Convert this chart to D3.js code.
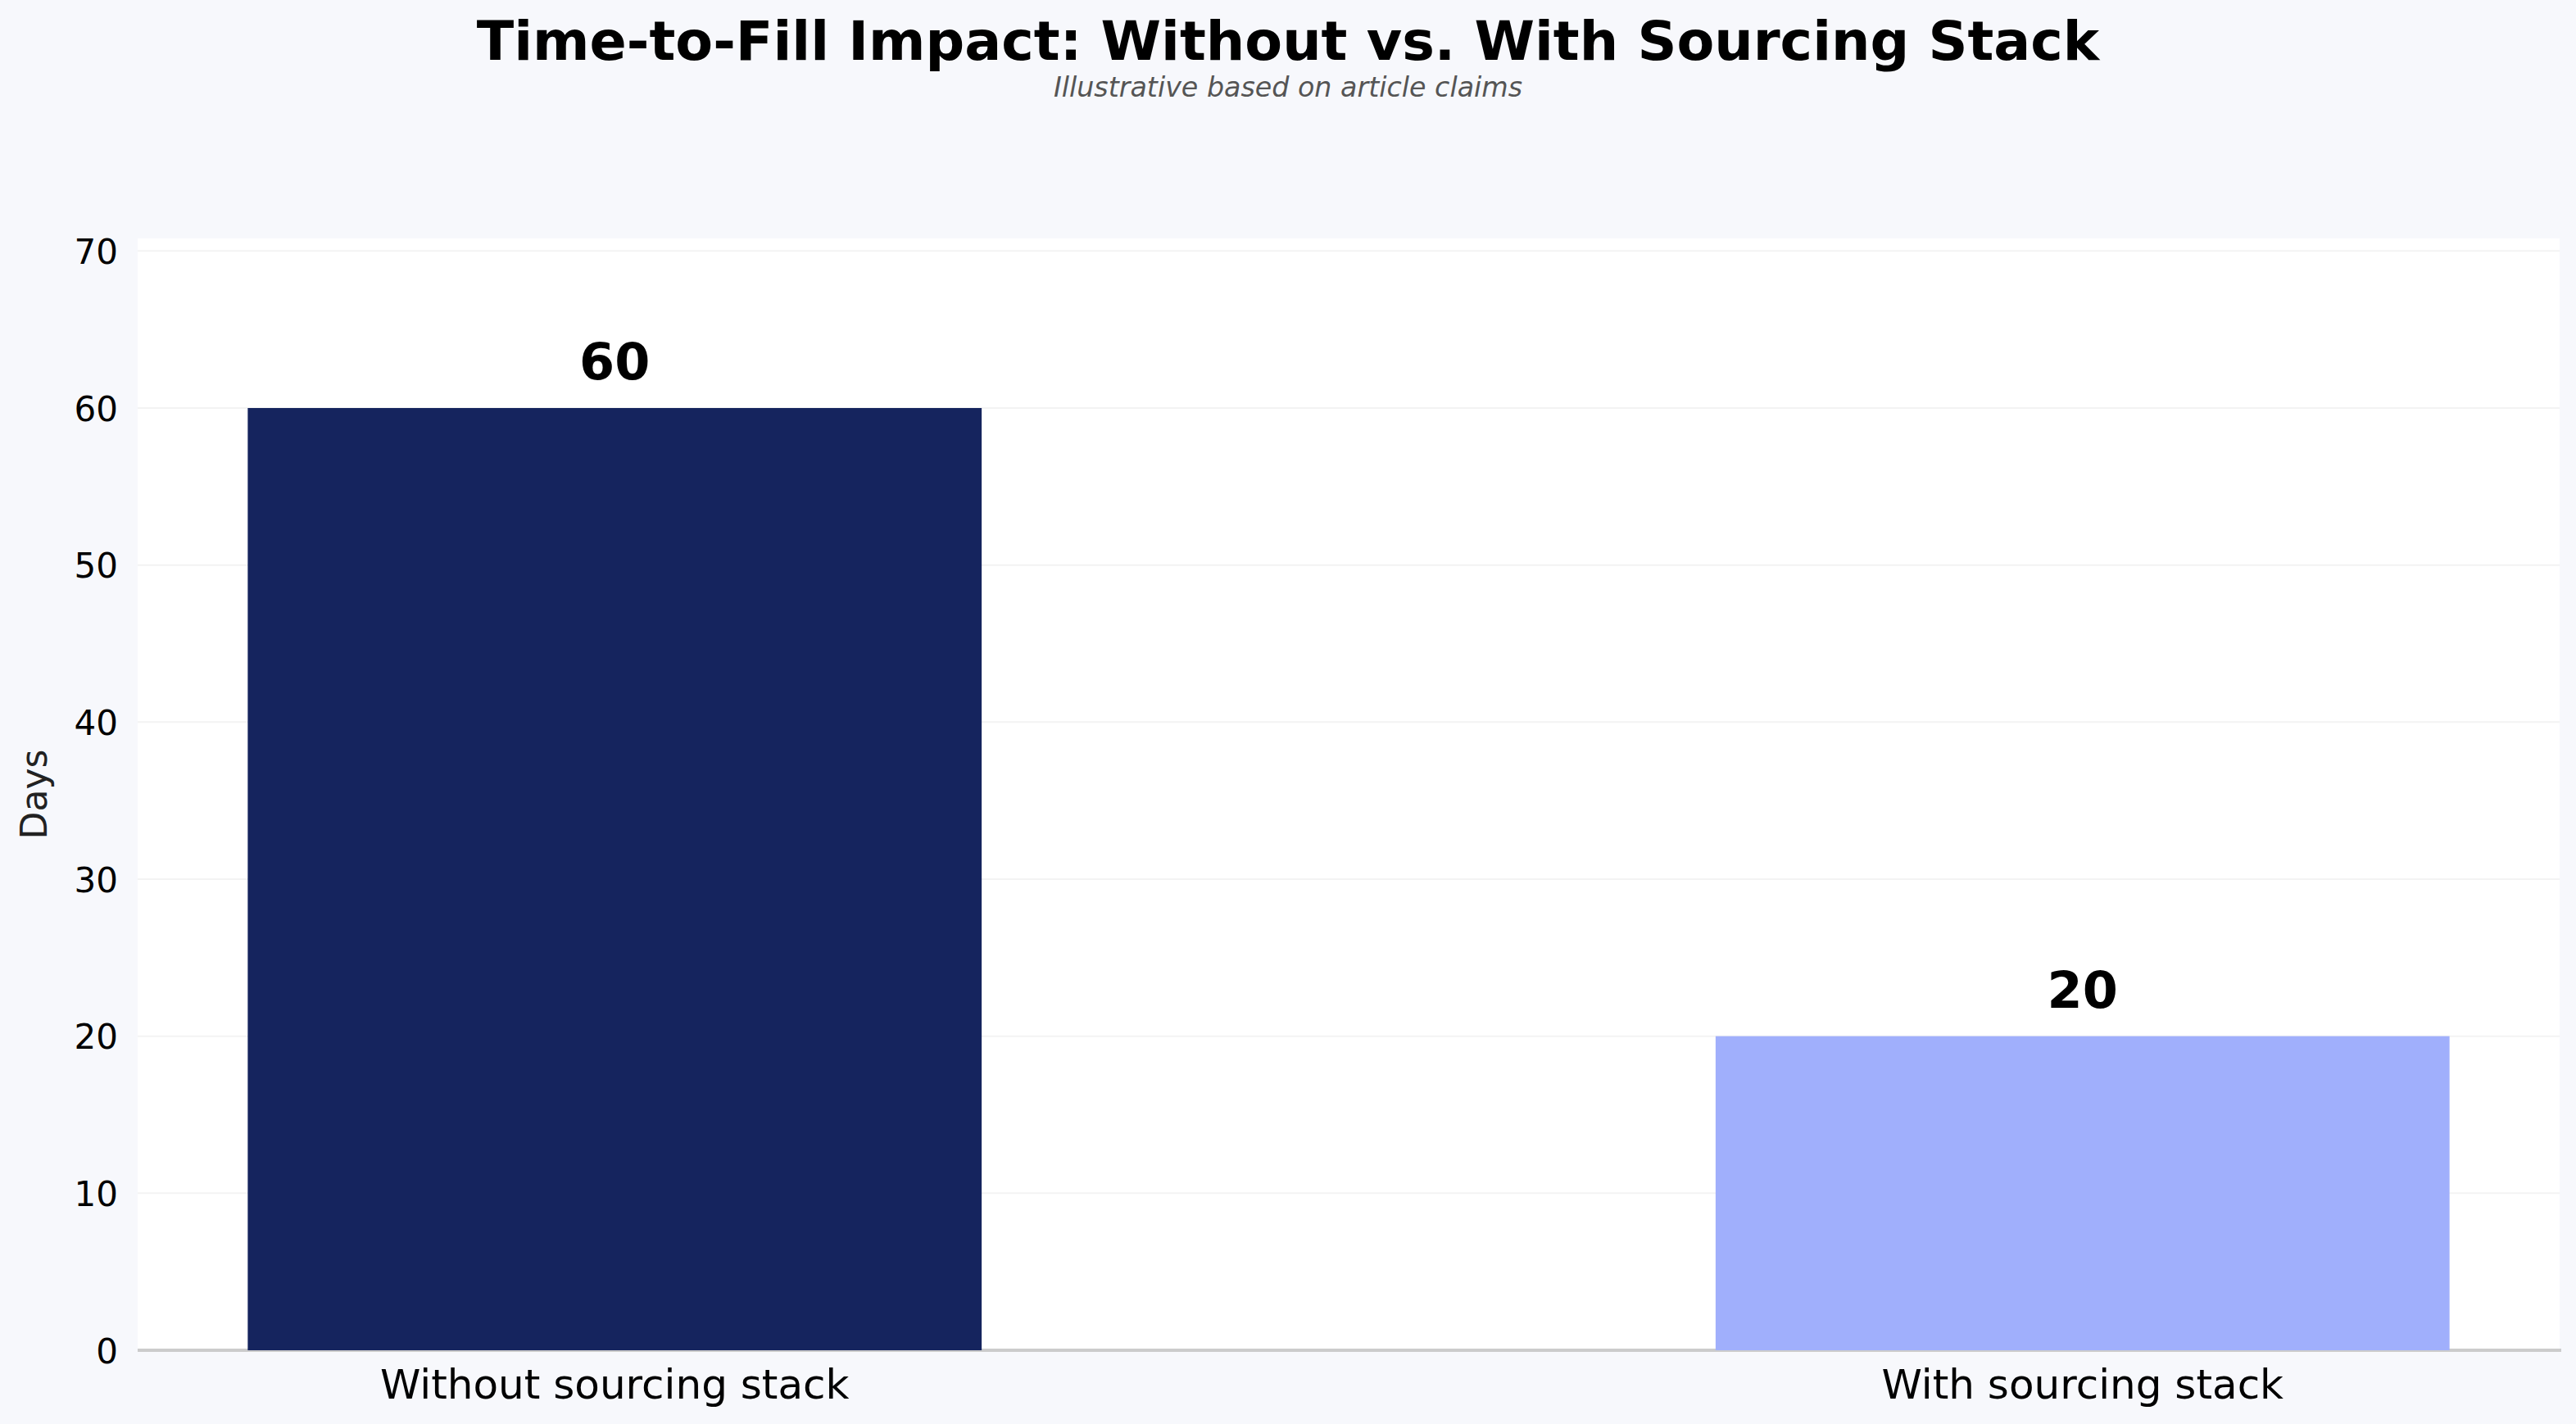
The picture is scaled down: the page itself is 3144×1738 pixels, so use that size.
<!DOCTYPE html>
<html>
<head>
<meta charset="utf-8">
<script src="https://cdn.jsdelivr.net/npm/d3@7"></script>
<style>
  html, body { margin: 0; padding: 0; background: #F7F8FC; }
  svg { display: block; font-family: "DejaVu Sans", sans-serif; }
</style>
</head>
<body>
<svg id="chart"></svg>
<script>
// chart data
const categories = ['Without sourcing stack', 'With sourcing stack'];
const days = [60, 20];
const barColors = ['#15245E', '#A0AFFC'];
const yTicks = [0, 10, 20, 30, 40, 50, 60, 70];

const width = 3144;
const height = 1738;
const margin = { top: 291, right: 20, bottom: 90, left: 168 };

const svg = d3.select('#chart')
    .attr('width', width)
    .attr('height', height);

svg.append('rect')
    .attr('width', width)
    .attr('height', height)
    .attr('fill', '#F7F8FC');

// plot area
const x = d3.scaleBand()
    .domain(categories)
    .range([margin.left, width - margin.right])
    .paddingInner(0.5)
    .paddingOuter(0.075);

const y = d3.scaleLinear()
    .domain([0, d3.max(days) * 1.18])
    .range([height - margin.bottom, margin.top]);

svg.append('rect')
    .attr('x', margin.left)
    .attr('y', margin.top)
    .attr('width', width - margin.right - margin.left)
    .attr('height', height - margin.bottom - margin.top)
    .attr('fill', '#ffffff');

// gridlines
svg.append('g')
    .selectAll('line')
    .data(yTicks)
    .enter()
    .append('line')
    .attr('x1', margin.left)
    .attr('x2', width - margin.right)
    .attr('y1', d => y(d))
    .attr('y2', d => y(d))
    .attr('stroke', '#f3f3f3')
    .attr('stroke-width', 2);

// y axis
const yAxis = svg.append('g')
    .attr('transform', `translate(${margin.left},0)`)
    .call(d3.axisLeft(y).tickValues(yTicks).tickSize(0).tickPadding(24));
yAxis.select('.domain').remove();
yAxis.selectAll('text')
    .attr('font-size', 42)
    .attr('font-family', '"DejaVu Sans", sans-serif')
    .attr('fill', '#000')
    .attr('dy', '0.36em');

// bottom spine
svg.append('line')
    .attr('x1', margin.left)
    .attr('x2', width - margin.right + 2)
    .attr('y1', y(0))
    .attr('y2', y(0))
    .attr('stroke', '#cccccc')
    .attr('stroke-width', 4);

// bars
const bars = categories.map((c, i) => ({ label: c, value: days[i], color: barColors[i] }));

svg.append('g')
    .selectAll('rect')
    .data(bars)
    .enter()
    .append('rect')
    .attr('x', d => x(d.label))
    .attr('y', d => y(d.value))
    .attr('width', x.bandwidth())
    .attr('height', d => y(0) - y(d.value))
    .attr('fill', d => d.color);

// value labels
svg.append('g')
    .selectAll('text')
    .data(bars)
    .enter()
    .append('text')
    .attr('x', d => x(d.label) + x.bandwidth() / 2)
    .attr('y', d => y(d.value) - 35)
    .attr('text-anchor', 'middle')
    .attr('font-size', 62)
    .attr('font-weight', 'bold')
    .attr('fill', '#000')
    .text(d => d.value);

// x axis labels
const xAxis = svg.append('g')
    .attr('transform', `translate(0,${y(0)})`)
    .call(d3.axisBottom(x).tickSize(0).tickPadding(0));
xAxis.select('.domain').remove();
xAxis.selectAll('text')
    .attr('font-size', 50)
    .attr('font-family', '"DejaVu Sans", sans-serif')
    .attr('fill', '#000')
    .attr('dy', null)
    .attr('y', 59);

// y label
svg.append('text')
    .attr('transform', `translate(57,${(margin.top + height - margin.bottom) / 2}) rotate(-90)`)
    .attr('text-anchor', 'middle')
    .attr('font-size', 44)
    .attr('fill', '#222')
    .text('Days');

// titles
svg.append('text')
    .attr('x', width / 2)
    .attr('y', 73)
    .attr('text-anchor', 'middle')
    .attr('font-size', 66.7)
    .attr('font-weight', 'bold')
    .attr('fill', '#000')
    .text('Time-to-Fill Impact: Without vs. With Sourcing Stack');

svg.append('text')
    .attr('x', width / 2)
    .attr('y', 118)
    .attr('text-anchor', 'middle')
    .attr('font-size', 33.3)
    .attr('font-style', 'italic')
    .attr('fill', '#555555')
    .text('Illustrative based on article claims');
</script>
</body>
</html>
